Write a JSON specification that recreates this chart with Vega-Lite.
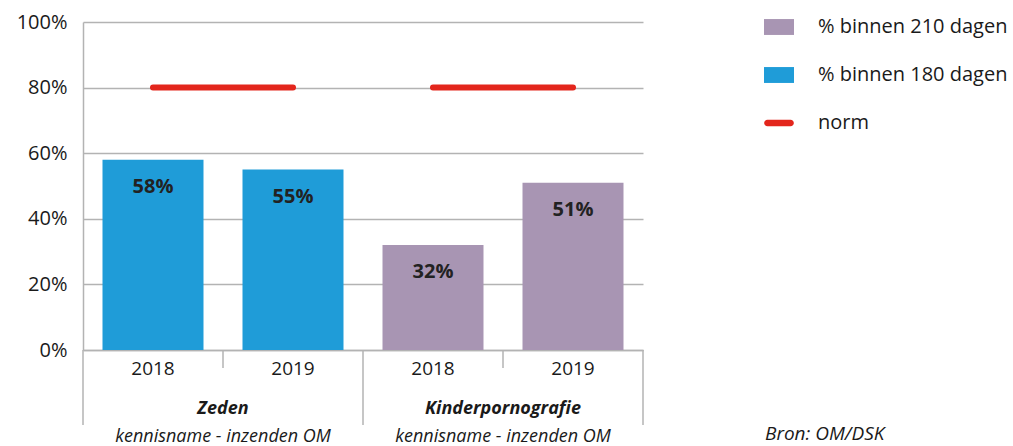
{
  "$schema": "https://vega.github.io/schema/vega-lite/v6.json",
  "width": 560,
  "height": 328,
  "autosize": {"type": "none"},
  "padding": {"left": 83, "top": 22, "right": 370, "bottom": 96},
  "background": "white",
  "config": {
    "font": "Open Sans",
    "view": {"stroke": null},
    "axisRight": {"domain": false, "labels": false, "ticks": false, "grid": false},
    "axisTop": {"domain": false, "labels": false, "ticks": false, "grid": false},
    "axisX": {"grid": false}
  },
  "title": {
    "text": "Bron: OM/DSK",
    "orient": "bottom",
    "anchor": "start",
    "frame": "group",
    "dx": 682,
    "dy": -25,
    "fontSize": 19,
    "fontStyle": "italic",
    "fontWeight": "normal",
    "color": "#1a1a1a"
  },
  "datasets": {
    "bars": [
      {"group": "Zeden", "cat": "Z2018", "value": 0.58, "series": "% binnen 180 dagen"},
      {"group": "Zeden", "cat": "Z2019", "value": 0.55, "series": "% binnen 180 dagen"},
      {"group": "Kinderpornografie", "cat": "K2018", "value": 0.32, "series": "% binnen 210 dagen"},
      {"group": "Kinderpornografie", "cat": "K2019", "value": 0.51, "series": "% binnen 210 dagen"}
    ],
    "norms": [
      {"group": "Zeden", "from": "Z2018", "to": "Z2019", "norm": 0.8},
      {"group": "Kinderpornografie", "from": "K2018", "to": "K2019", "norm": 0.8}
    ],
    "groups": [
      {"group": "Zeden", "first": "Z2018", "sub": "kennisname - inzenden OM"},
      {"group": "Kinderpornografie", "first": "K2018", "sub": "kennisname - inzenden OM"}
    ],
    "sepStart": [
      {"cat": "Z2018", "top": 0, "bottom": -0.2287},
      {"cat": "K2018", "top": 0, "bottom": -0.2287}
    ],
    "sepEnd": [
      {"cat": "Z2018", "top": 0, "bottom": -0.0549},
      {"cat": "K2018", "top": 0, "bottom": -0.0549},
      {"cat": "K2019", "top": 0, "bottom": -0.2287}
    ]
  },
  "layer": [
    {
      "data": {"name": "bars"},
      "mark": {"type": "bar", "width": {"band": 0.7214}},
      "encoding": {
        "x": {
          "field": "cat",
          "type": "nominal",
          "sort": ["Z2018", "Z2019", "K2018", "K2019"],
          "scale": {"domain": ["Z2018", "Z2019", "K2018", "K2019"], "paddingInner": 0, "paddingOuter": 0},
          "axis": {
            "title": null,
            "labelExpr": "substring(datum.label, 1)",
            "labelAngle": 0,
            "labelFontSize": 19,
            "labelColor": "#1a1a1a",
            "labelPadding": -9,
            "domainColor": "#b3b3b3",
            "domainWidth": 1.5,
            "ticks": true,
            "tickSize": 18,
            "tickOpacity": 0,
            "grid": false
          }
        },
        "y": {
          "field": "value",
          "type": "quantitative",
          "scale": {"domain": [0, 1]},
          "axis": {
            "title": null,
            "values": [0, 0.2, 0.4, 0.6, 0.8, 1],
            "format": ".0%",
            "grid": true,
            "gridColor": "#b3b3b3",
            "gridWidth": 1.5,
            "ticks": false,
            "domainColor": "#b3b3b3",
            "domainWidth": 1.5,
            "labelFontSize": 20,
            "labelColor": "#1a1a1a",
            "labelPadding": 16
          }
        },
        "color": {
          "field": "series",
          "type": "nominal",
          "scale": {
            "domain": ["% binnen 210 dagen", "% binnen 180 dagen", "norm"],
            "range": ["#A895B3", "#1F9CD8", "#E3261C"]
          },
          "legend": {
            "orient": "none",
            "legendX": 681,
            "legendY": -10,
            "title": null,
            "padding": 0,
            "symbolSize": 900,
            "symbolStrokeWidth": 0,
            "symbolOpacity": 1,
            "labelFontSize": 20,
            "labelColor": "#1a1a1a",
            "labelOffset": 24,
            "labelLimit": 300,
            "rowPadding": 23,
            "encode": {
              "symbols": {
                "update": {
                  "shape": {"signal": "datum.value === 'norm' ? 'M-0.77,-0.22L0.77,-0.22A0.22,0.22,0,0,1,0.77,0.22L-0.77,0.22A0.22,0.22,0,0,1,-0.77,-0.22Z' : 'M-1,-0.53L1,-0.53L1,0.53L-1,0.53Z'"}
                }
              }
            }
          }
        }
      }
    },
    {
      "data": {"name": "bars"},
      "mark": {"type": "text", "baseline": "middle", "dy": 27, "fontWeight": "bold", "fontSize": 20, "color": "#222222"},
      "encoding": {
        "x": {"field": "cat", "type": "nominal", "sort": ["Z2018", "Z2019", "K2018", "K2019"]},
        "y": {"field": "value", "type": "quantitative"},
        "text": {"field": "value", "type": "quantitative", "format": ".0%"}
      }
    },
    {
      "data": {"name": "norms"},
      "mark": {"type": "rule", "color": "#E3261C", "strokeWidth": 6, "strokeCap": "round"},
      "encoding": {
        "x": {"field": "from", "type": "nominal"},
        "x2": {"field": "to"},
        "y": {"field": "norm", "type": "quantitative"}
      }
    },
    {
      "data": {"name": "sepStart"},
      "mark": {"type": "rule", "color": "#b3b3b3", "strokeWidth": 1.5},
      "encoding": {
        "x": {"field": "cat", "type": "nominal", "bandPosition": 0},
        "y": {"field": "top", "type": "quantitative"},
        "y2": {"field": "bottom"}
      }
    },
    {
      "data": {"name": "sepEnd"},
      "mark": {"type": "rule", "color": "#b3b3b3", "strokeWidth": 1.5},
      "encoding": {
        "x": {"field": "cat", "type": "nominal", "bandPosition": 1},
        "y": {"field": "top", "type": "quantitative"},
        "y2": {"field": "bottom"}
      }
    },
    {
      "data": {"name": "groups"},
      "mark": {"type": "text", "baseline": "middle", "fontWeight": "bold", "fontStyle": "italic", "fontSize": 18, "color": "#1a1a1a"},
      "encoding": {
        "x": {"field": "first", "type": "nominal", "bandPosition": 1},
        "y": {"datum": -0.18, "type": "quantitative"},
        "text": {"field": "group"}
      }
    },
    {
      "data": {"name": "groups"},
      "mark": {"type": "text", "baseline": "middle", "fontStyle": "italic", "fontSize": 18, "color": "#1a1a1a"},
      "encoding": {
        "x": {"field": "first", "type": "nominal", "bandPosition": 1},
        "y": {"datum": -0.265, "type": "quantitative"},
        "text": {"field": "sub"}
      }
    }
  ]
}
